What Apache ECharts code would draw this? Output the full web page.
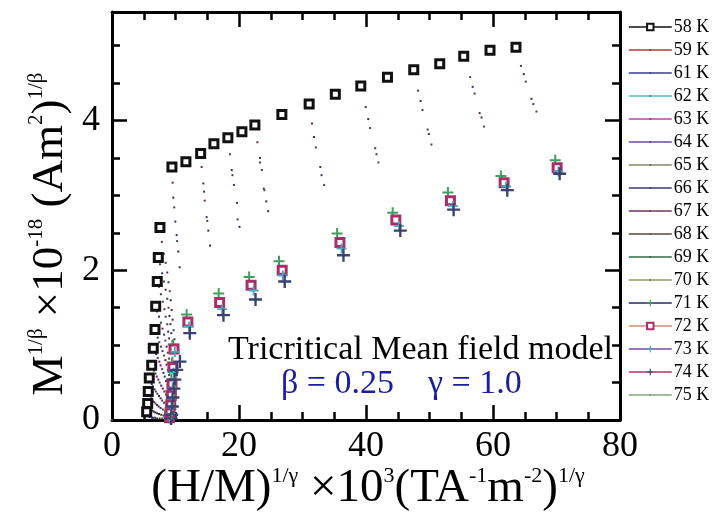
<!DOCTYPE html>
<html>
<head>
<meta charset="utf-8">
<script src="https://cdn.jsdelivr.net/npm/echarts/dist/echarts.min.js"></script>
<style>
  html, body { margin: 0; padding: 0; background: #fff; }
  #chart { width: 712px; height: 517px; }
</style>
</head>
<body>
<div id="chart"></div>
<script>
// Modified Arrott plot: M^(1/beta) vs (H/M)^(1/gamma), tricritical mean-field exponents
const temperatures = ['58 K', '59 K', '61 K', '62 K', '63 K', '64 K', '65 K', '66 K', '67 K', '68 K', '69 K', '70 K', '71 K', '72 K', '73 K', '74 K', '75 K'];
const xTicks = [0, 20, 40, 60, 80];
const yTickLabels = [0, 2, 4];

// [ (H/M)^(1/γ) ×10^3 , M^(1/β) ×10^-18 ]
const t58 = [[5.46, 0.11], [5.62, 0.22], [5.71, 0.38], [5.87, 0.56], [6.25, 0.73], [6.5, 0.96], [6.77, 1.21], [6.88, 1.52], [7.13, 1.85], [7.29, 2.17], [7.55, 2.57],
  [9.44, 3.38], [11.64, 3.45], [13.96, 3.56], [16.05, 3.69], [18.25, 3.77], [20.46, 3.85], [22.5, 3.94], [26.75, 4.08], [31.05, 4.22], [35.17, 4.35],
  [39.18, 4.46], [43.38, 4.58], [47.52, 4.68], [51.61, 4.76], [55.39, 4.86], [59.53, 4.94], [63.62, 4.98]];
const t59 = [[0, 0], [5.5, 0.08], [5.7, 0.2], [5.85, 0.35], [6.05, 0.52], [6.4, 0.7], [6.7, 0.93], [6.95, 1.17], [7.1, 1.45], [7.4, 1.78], [7.55, 2.08], [7.85, 2.38],
  [9.55, 3.17], [14.12, 3.38], [18.57, 3.55], [22.9, 3.71], [31.5, 3.96], [39.95, 4.18], [48.2, 4.4], [56.4, 4.58], [64.4, 4.73]];
const t61 = [[5.6, 0.06], [5.85, 0.18], [6.0, 0.32], [6.25, 0.48], [6.6, 0.66], [6.95, 0.88], [7.2, 1.1], [7.4, 1.38], [7.7, 1.68], [7.9, 1.96], [8.15, 2.22],
  [9.65, 2.97], [14.38, 3.16], [18.85, 3.34], [23.3, 3.5], [31.8, 3.78], [40.35, 4.02], [48.6, 4.26], [56.8, 4.45], [64.85, 4.62]];
const t62 = [[5.75, 0.05], [6.0, 0.16], [6.2, 0.29], [6.45, 0.45], [6.85, 0.62], [7.2, 0.83], [7.45, 1.04], [7.7, 1.3], [8.0, 1.58], [8.2, 1.85], [8.45, 2.1],
  [9.8, 2.84], [14.5, 3.05], [18.97, 3.27], [23.3, 3.44], [32.1, 3.64], [40.65, 3.9], [48.9, 4.14], [57.1, 4.36], [65.15, 4.52]];
const t63 = [[5.9, 0.04], [6.2, 0.14], [6.4, 0.26], [6.7, 0.41], [7.05, 0.58], [7.45, 0.78], [7.7, 0.98], [7.95, 1.22], [8.25, 1.48], [8.45, 1.74], [8.7, 1.97],
  [9.97, 2.65], [14.6, 2.93], [19.2, 3.14], [23.6, 3.34], [32.8, 3.38], [41.45, 3.63], [49.7, 3.88], [57.9, 4.1], [66.05, 4.29]];
const t64 = [[6.1, 0.04], [6.4, 0.12], [6.6, 0.24], [6.9, 0.38], [7.3, 0.54], [7.65, 0.73], [7.95, 0.92], [8.2, 1.14], [8.45, 1.38], [8.7, 1.62], [8.9, 1.84],
  [10.18, 2.47], [14.9, 2.71], [19.67, 2.9], [23.9, 3.09], [33.0, 3.27], [41.65, 3.55], [49.9, 3.82], [58.2, 4.04], [66.35, 4.22]];
const t65 = [[6.3, 0.03], [6.6, 0.11], [6.85, 0.22], [7.15, 0.35], [7.5, 0.5], [7.9, 0.68], [8.2, 0.86], [8.4, 1.06], [8.7, 1.28], [8.9, 1.5], [9.1, 1.72],
  [10.25, 2.39], [15.0, 2.66], [19.78, 2.68], [24.0, 3.07], [33.4, 3.14], [41.95, 3.44], [50.3, 3.68], [58.6, 3.92], [66.85, 4.12]];
const t66 = [[6.5, 0.03], [6.85, 0.1], [7.1, 0.2], [7.4, 0.32], [7.75, 0.46], [8.1, 0.63], [8.4, 0.8], [8.6, 0.98], [8.85, 1.18], [9.05, 1.39], [9.25, 1.6],
  [10.44, 2.25], [15.17, 2.53], [20.08, 2.58], [24.3, 2.92]];
const t67 = [[6.8, 0.03], [7.1, 0.09], [7.35, 0.18], [7.65, 0.29], [8.0, 0.42], [8.3, 0.58], [8.6, 0.74], [8.8, 0.9], [9.0, 1.09], [9.2, 1.28], [9.4, 1.47],
  [10.65, 2.04], [15.43, 2.33], [24.6, 2.79]];
const t68 = [[7.1, 0.02], [7.4, 0.08], [7.65, 0.16], [7.9, 0.26], [8.25, 0.38], [8.5, 0.52], [8.8, 0.67], [9.0, 0.82], [9.15, 0.99], [9.35, 1.16], [9.55, 1.34]];
const t69 = [[7.5, 0.02], [7.75, 0.07], [8.0, 0.14], [8.2, 0.23], [8.5, 0.34], [8.75, 0.47], [9.0, 0.6], [9.15, 0.74], [9.3, 0.89], [9.5, 1.05], [9.7, 1.2]];
const t70 = [[7.9, 0.02], [8.1, 0.06], [8.35, 0.12], [8.55, 0.2], [8.8, 0.3], [9.0, 0.42], [9.15, 0.54], [9.3, 0.67], [9.45, 0.8], [9.65, 0.94], [9.85, 1.08]];
const t71 = [[8.95, 0.03], [9.05, 0.12], [9.15, 0.24], [9.25, 0.38], [9.35, 0.54], [9.5, 0.77], [9.65, 1.01], [11.75, 1.41], [16.8, 1.69], [21.6, 1.91], [26.3, 2.12],
  [35.45, 2.49], [44.2, 2.77], [52.9, 3.04], [61.25, 3.26], [69.8, 3.47]];
const t72 = [[9.05, 0.03], [9.15, 0.1], [9.25, 0.2], [9.35, 0.33], [9.45, 0.48], [9.6, 0.7], [9.77, 0.95], [11.95, 1.31], [16.95, 1.57], [21.9, 1.8], [26.8, 2.0],
  [35.9, 2.37], [44.7, 2.67], [53.3, 2.93], [61.75, 3.17], [70.1, 3.37]];
const t73 = [[9.15, 0.02], [9.25, 0.08], [9.35, 0.17], [9.45, 0.29], [9.55, 0.43], [9.7, 0.63], [9.9, 0.91], [12.15, 1.25], [17.35, 1.48], [22.3, 1.73], [26.9, 1.93],
  [36.15, 2.29], [45.2, 2.59], [53.7, 2.86], [62.05, 3.12], [70.3, 3.32]];
const t74 = [[9.3, 0.02], [9.4, 0.07], [9.5, 0.18], [9.6, 0.3], [9.75, 0.42], [9.9, 0.54], [10.2, 0.67], [10.7, 0.78], [12.25, 1.16], [17.55, 1.4], [22.6, 1.61],
  [27.2, 1.85], [36.45, 2.2], [45.4, 2.53], [53.8, 2.81], [62.25, 3.07], [70.5, 3.29]];
const t75 = [[9.4, 0.02], [9.5, 0.06], [9.6, 0.13], [9.7, 0.22], [9.8, 0.33], [9.95, 0.45], [10.1, 0.57]];

const seriesData = [t58, t59, t61, t62, t63, t64, t65, t66, t67, t68, t69, t70, t71, t72, t73, t74, t75];

// legend line colour and marker colour for each isotherm
const lineColors = ['#111111', '#b03a3a', '#3a3a92', '#5ab8b8', '#b845b0', '#6c44a8', '#7f8d62', '#343c72', '#6e3464', '#604444', '#336b44', '#8c9c58',
  '#26266e', '#c8926e', '#7a4aa8', '#b8306a', '#8aa57e'];
const markColors = ['#111111', '#5a3030', '#30305a', '#2f4a4a', '#5a2a5a', '#4a2f6a', '#4a4f3a', '#2a2f50', '#4a2a44', '#4a3434', '#2a4a34', '#4f5736',
  '#3f9f5f', '#a8306a', '#4aa8c0', '#3a4272'];

const SERIF = 'Liberation Serif';
const DOT = 'path://M0 0M10 10M4 4H6V6H4Z';
const PLUS = 'path://M4.5 0H6.5V4.5H11V6.5H6.5V11H4.5V6.5H0V4.5H4.5Z';

function markerFor(i) {
  if (i === 0) return { symbol: 'rect', size: 8, color: '#ffffff', border: '#111111', bw: 3 };
  if (i === 12) return { symbol: PLUS, size: 11, color: markColors[12] };
  if (i === 13) return { symbol: 'rect', size: 8, color: '#ffffff', border: markColors[13], bw: 3 };
  if (i === 14) return { symbol: PLUS, size: 10, color: markColors[14] };
  if (i === 15) return { symbol: PLUS, size: 13, color: markColors[15] };
  if (i === 16) return { symbol: DOT, size: 10, color: '#6f8a64' };
  return { symbol: DOT, size: 10, color: markColors[i] };
}

const series = seriesData.map(function (data, i) {
  const m = markerFor(i);
  return {
    name: temperatures[i],
    type: 'line',
    data: data,
    xAxisIndex: 0,
    yAxisIndex: 0,
    symbol: m.symbol,
    symbolSize: m.size,
    showSymbol: true,
    showAllSymbol: true,
    lineStyle: { width: 0, color: lineColors[i] },
    itemStyle: { color: m.color, borderColor: m.border || m.color, borderWidth: m.bw || 0 },
    emphasis: { disabled: true },
    silent: true,
    z: 2 + (i === 0 ? 3 : 0)
  };
});

const axisLineStyle = { color: '#000', width: 3 };
const tickStyle = { color: '#000', width: 2.5 };

function xAxisDef(pos, showLabels) {
  return {
    type: 'value', position: pos, min: xTicks[0], max: xTicks[xTicks.length - 1], interval: 20,
    axisLine: { show: true, onZero: false, lineStyle: axisLineStyle },
    axisTick: { show: true, inside: true, length: 15, lineStyle: tickStyle },
    minorTick: { show: true, splitNumber: 4, length: 8, lineStyle: tickStyle },
    splitLine: { show: false },
    axisLabel: showLabels ? { show: true, margin: 9, color: '#000', fontFamily: SERIF, fontSize: 36 } : { show: false }
  };
}

function yAxisDef(pos, interval, tickLen, showLine, showLabels) {
  return {
    type: 'value', position: pos, min: 0, max: 5.45, interval: interval,
    axisLine: { show: showLine, onZero: false, lineStyle: axisLineStyle },
    axisTick: { show: true, inside: true, length: tickLen, lineStyle: tickStyle },
    splitLine: { show: false },
    axisLabel: showLabels ? {
      show: true, margin: 12, color: '#000', fontFamily: SERIF, fontSize: 36,
      formatter: function (v) { return yTickLabels.indexOf(v) >= 0 ? String(v) : ''; }
    } : { show: false }
  };
}

const chart = echarts.init(document.getElementById('chart'), null, { renderer: 'canvas' });
chart.setOption({
  animation: false,
  backgroundColor: '#ffffff',
  grid: { left: 112, top: 12, right: 92, bottom: 97, containLabel: false },
  xAxis: [xAxisDef('bottom', true), xAxisDef('top', false)],
  yAxis: [
    yAxisDef('left', 0.5, 8, true, true),
    yAxisDef('left', 2, 15, false, false),
    yAxisDef('right', 0.5, 8, true, false),
    yAxisDef('right', 2, 15, false, false)
  ],
  legend: {
    orient: 'vertical', left: 628, top: 18, padding: 0,
    itemWidth: 43, itemHeight: 8, itemGap: 5,
    data: temperatures,
    lineStyle: { width: 1.6 },
    textStyle: { fontFamily: SERIF, fontSize: 18, color: '#000', padding: [0, 0, 0, -3] },
    selectedMode: false
  },
  graphic: [
    {
      type: 'text', x: 50, y: 234, rotation: Math.PI / 2,
      style: {
        text: '{a|M}{b|1/β}{a| ×10}{b|-18}{a| (Am}{b|2}{a|)}{b|1/β}',
        align: 'center', verticalAlign: 'middle', fill: '#000',
        rich: {
          a: { fontFamily: SERIF, fontSize: 45, lineHeight: 48, fill: '#000' },
          b: { fontFamily: SERIF, fontSize: 21, lineHeight: 21, verticalAlign: 'top', fill: '#000' }
        }
      }
    },
    {
      type: 'text', x: 368, y: 489,
      style: {
        text: '{a|(H/M)}{b|1/γ}{a| ×10}{b|3}{a|(TA}{b|-1}{a|m}{b|-2}{a|)}{b|1/γ}',
        align: 'center', verticalAlign: 'middle', fill: '#000',
        rich: {
          a: { fontFamily: SERIF, fontSize: 47, lineHeight: 48, fill: '#000' },
          b: { fontFamily: SERIF, fontSize: 22, lineHeight: 22, verticalAlign: 'top', fill: '#000' }
        }
      }
    },
    {
      type: 'text', x: 228, y: 350, z: -1,
      style: { text: 'Tricritical Mean field model', fontFamily: SERIF, fontSize: 34, fill: '#000', align: 'left', verticalAlign: 'middle' }
    },
    {
      type: 'text', x: 281, y: 384,
      style: { text: 'β = 0.25    γ = 1.0', fontFamily: SERIF, fontSize: 34, fill: '#1c1c9e', align: 'left', verticalAlign: 'middle' }
    }
  ],
  series: series
});
</script>
</body>
</html>
